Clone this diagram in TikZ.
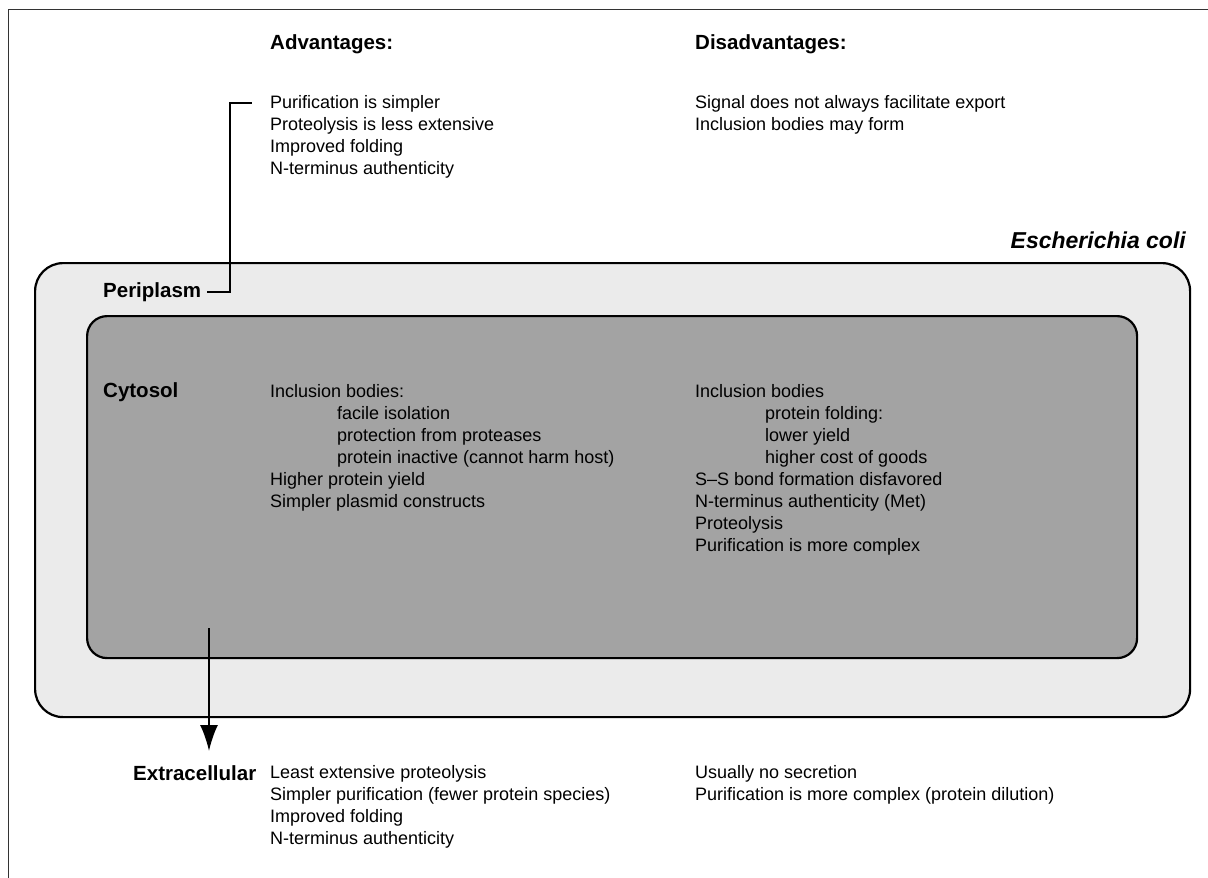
\documentclass[tikz,border=0pt]{standalone}
\usepackage{fontspec}
\setmainfont{Liberation Sans}
\usetikzlibrary{arrows.meta}
\begin{document}
\begin{tikzpicture}[x=1pt,y=-1pt,
  txt/.style={anchor=north west, inner sep=0pt, align=left, font=\fontsize{18}{22}\selectfont},
  lbl/.style={anchor=west, inner sep=0pt, font=\fontsize{20.5}{24}\selectfont\bfseries},
  head/.style={anchor=west, inner sep=0pt, font=\fontsize{20.5}{24}\selectfont\bfseries},
  cellbox/.style={draw, line width=2.2pt, anchor=north west, inner sep=0pt},
  link/.style={line width=2pt},
  ]
\useasboundingbox (0,0) rectangle (1208,878);
\draw[line width=0.8pt, black!80] (1208,9) -- (8,9) -- (8,878);
% cell compartments
\node[cellbox, rounded corners=28pt, fill=black!8, minimum width=1155pt, minimum height=454pt] (outer) at (34,262) {};
\node[cellbox, rounded corners=20pt, fill=black!36, minimum width=1050pt, minimum height=342pt] (inner) at (86,315) {};
% headings
\node[head] (adv) at (270,44) {Advantages:};
\node[head] (dis) at (695,44) {Disadvantages:};
\node[anchor=east, inner sep=0pt, font=\fontsize{23}{27}\selectfont\bfseries\itshape] (ecoli) at (1186,240) {Escherichia coli};
% periplasm
\node[lbl] (peri) at (103,292) {Periplasm};
\node[txt] (padv) at (270,95) {Purification is simpler\\Proteolysis is less extensive\\Improved folding\\N-terminus authenticity};
\node[txt] (pdis) at (695,95) {Signal does not always facilitate export\\Inclusion bodies may form};
\coordinate (brk) at (252,103);
\draw[link] ([xshift=6pt]peri.east) -- (230,292) -- (230,103) -- (brk);
% cytosol
\node[lbl] (cyto) at (103,392) {Cytosol};
\node[txt] (cadv) at (270,384) {Inclusion bodies:\\
\hspace*{67pt}facile isolation\\
\hspace*{67pt}protection from proteases\\
\hspace*{67pt}protein inactive (cannot harm host)\\
Higher protein yield\\
Simpler plasmid constructs};
\node[txt] (cdis) at (695,384) {Inclusion bodies\\
\hspace*{70pt}protein folding:\\
\hspace*{70pt}lower yield\\
\hspace*{70pt}higher cost of goods\\
S--S bond formation disfavored\\
N-terminus authenticity (Met)\\
Proteolysis\\
Purification is more complex};
% extracellular
\coordinate (astart) at (209,628);
\coordinate (aend) at (209,751);
\draw[link, -{Latex[length=26pt,width=18pt]}] (astart) -- (aend);
\node[lbl] (extra) at (133,773) {Extracellular};
\node[txt] (eadv) at (270,765) {Least extensive proteolysis\\Simpler purification (fewer protein species)\\Improved folding\\N-terminus authenticity};
\node[txt] (edis) at (695,765) {Usually no secretion\\Purification is more complex (protein dilution)};
\end{tikzpicture}
\end{document}
